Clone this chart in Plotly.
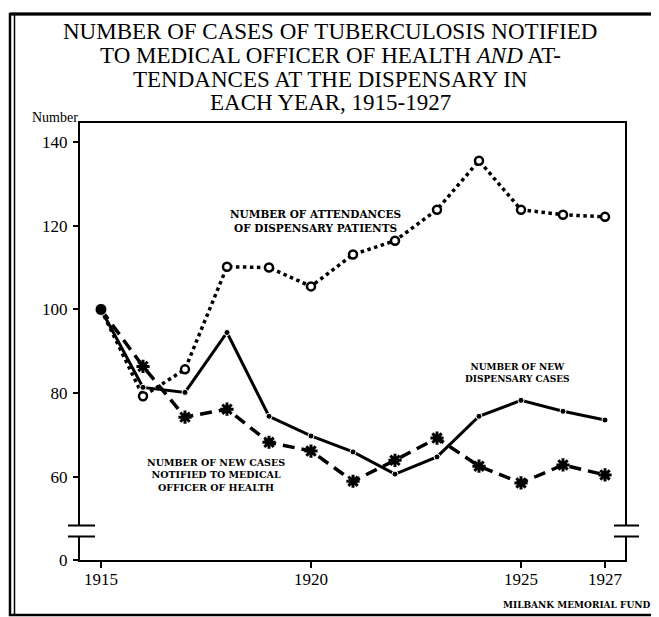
import plotly.graph_objects as go

# Datos
anios = list(range(1915, 1928))
asistencias = [100, 79.3, 85.7, 110.2, 110, 105.5, 113.1, 116.4, 123.8, 135.5, 123.8, 122.6, 122.1]
casos_dispensario = [100, 81.4, 80.2, 94.5, 74.5, 69.8, 66, 60.7, 64.8, 74.5, 78.3, 75.7, 73.6]
casos_notificados = [100, 86.4, 74.3, 76.2, 68.3, 66.2, 59.0, 64, 69.3, 62.6, 58.6, 62.9, 60.5]

x_ticks = [1915, 1920, 1925, 1927]
x_ticktext = ["1915", "1920", "1925", "1927"]
y_ticks = [60, 80, 100, 120, 140]
y_ticktext = ["60", "80", "100", "120", "140"]

titulo = [
    "NUMBER OF CASES OF TUBERCULOSIS NOTIFIED",
    "TO MEDICAL OFFICER OF HEALTH <i>AND</i> AT-",
    "TENDANCES AT THE DISPENSARY IN",
    "EACH YEAR, 1915-1927",
]

# Eje y cortado: el "0" se dibuja justo debajo del corte
CERO = 40.2
Y_MAX = 144.5

# la página deja 8px de margen en el body: trabajamos en coordenadas de pantalla
OFF = 8
W, H = 659 - OFF, 617 - OFF
L, R, T, B = 80, 625, 123, 560  # área de trazado en pantalla


def px(x):
    return (x - L) / (R - L)


def py(y):
    return (B - y) / (B - T)


n = len(anios)
fig = go.Figure()

fig.add_trace(go.Scatter(
    x=anios, y=asistencias, mode="lines+markers",
    line=dict(color="black", width=3.5, dash="dot"),
    marker=dict(symbol="circle", size=[0] + [8] * (n - 1), color="white", opacity=1,
                line=dict(color="black", width=2.5)),
    showlegend=False,
))
fig.add_trace(go.Scatter(
    x=anios, y=casos_notificados, mode="lines+markers",
    line=dict(color="black", width=3.5, dash="12px,7px"),
    marker=dict(symbol="asterisk-open", size=[0] + [11] * (n - 1), opacity=1,
                line=dict(color="black", width=3)),
    showlegend=False,
))
fig.add_trace(go.Scatter(
    x=anios, y=casos_dispensario, mode="lines+markers",
    line=dict(color="black", width=3),
    marker=dict(symbol="circle", color="black", size=[12] + [6] * (n - 1), opacity=1),
    showlegend=False,
))

serif = "Liberation Serif"
bold = "DejaVu Serif"

fig.update_xaxes(
    range=[1914.5, 1927.476], showgrid=False, zeroline=False,
    showline=True, linecolor="black", linewidth=2, mirror=True,
    tickmode="array", tickvals=x_ticks, ticktext=x_ticktext,
    ticks="outside", ticklen=6, tickwidth=2, tickcolor="black",
    ticklabelstandoff=-3,
    tickfont=dict(family=serif, size=17, color="black"),
)
fig.update_yaxes(
    range=[CERO, Y_MAX], showgrid=False, zeroline=False,
    showline=True, linecolor="black", linewidth=2, mirror=True,
    tickmode="array", tickvals=[CERO] + y_ticks, ticktext=["0"] + y_ticktext,
    ticks="outside", ticklen=5, tickwidth=2, tickcolor="black",
    ticklabelstandoff=2,
    tickfont=dict(family=serif, size=17, color="black"),
)

shapes = []
# Marco exterior doble
shapes.append(dict(type="rect", xref="paper", yref="paper",
                   x0=px(10), x1=px(656), y0=py(615), y1=py(14),
                   line=dict(color="black", width=2.5), layer="above"))
shapes.append(dict(type="line", xref="paper", yref="paper",
                   x0=px(10), x1=px(656), y0=py(14), y1=py(14),
                   line=dict(color="black", width=3), layer="above"))
shapes.append(dict(type="line", xref="paper", yref="paper",
                   x0=px(14.5), x1=px(14.5), y0=py(615), y1=py(14),
                   line=dict(color="black", width=1.5), layer="above"))

# Cortes del eje y (izquierda y derecha)
for xa, xb in [(68, 95), (614, 639)]:
    xm = (xa + xb) / 2
    shapes.append(dict(type="rect", xref="paper", yref="paper",
                       x0=px(xm - 4), x1=px(xm + 4), y0=py(536), y1=py(526),
                       fillcolor="white", line=dict(width=0), layer="above"))
    for yy in (525.5, 536.5):
        shapes.append(dict(type="line", xref="paper", yref="paper",
                           x0=px(xa), x1=px(xb), y0=py(yy), y1=py(yy),
                           line=dict(color="black", width=2), layer="above"))

fig.update_layout(shapes=shapes)

anotaciones = []
for linea, yc in zip(titulo, [31, 55, 79, 102]):
    anotaciones.append(dict(text=linea, x=px(330), y=py(yc), xanchor="center", yanchor="middle",
                            font=dict(family=serif, size=23, color="black")))

anotaciones += [
    dict(text="Number", x=px(80), y=py(118), xanchor="right", yanchor="middle",
         font=dict(family=serif, size=14, color="black")),
    dict(text="<b>NUMBER OF ATTENDANCES<br>OF DISPENSARY PATIENTS</b>",
         x=px(315), y=py(221), xanchor="center", yanchor="middle",
         font=dict(family=bold, size=10.5, color="black")),
    dict(text="<b>NUMBER OF NEW CASES<br>NOTIFIED TO MEDICAL<br>OFFICER OF HEALTH</b>",
         x=px(216), y=py(475), xanchor="center", yanchor="middle",
         font=dict(family=bold, size=9.5, color="black")),
    dict(text="<b>NUMBER OF NEW<br>DISPENSARY CASES</b>",
         x=px(517), y=py(373), xanchor="center", yanchor="middle",
         font=dict(family=bold, size=9, color="black")),
    dict(text="<b>MILBANK MEMORIAL FUND</b>",
         x=px(652), y=py(605), xanchor="right", yanchor="middle",
         font=dict(family=bold, size=9, color="black")),
]
for a in anotaciones:
    a.update(xref="paper", yref="paper", showarrow=False, align="center")

fig.update_layout(
    width=W, height=H,
    margin=dict(l=L - OFF, r=W - (R - OFF), t=T - OFF, b=H - (B - OFF)),
    plot_bgcolor="white", paper_bgcolor="white",
    annotations=anotaciones,
)

fig.write_html("out.html")
